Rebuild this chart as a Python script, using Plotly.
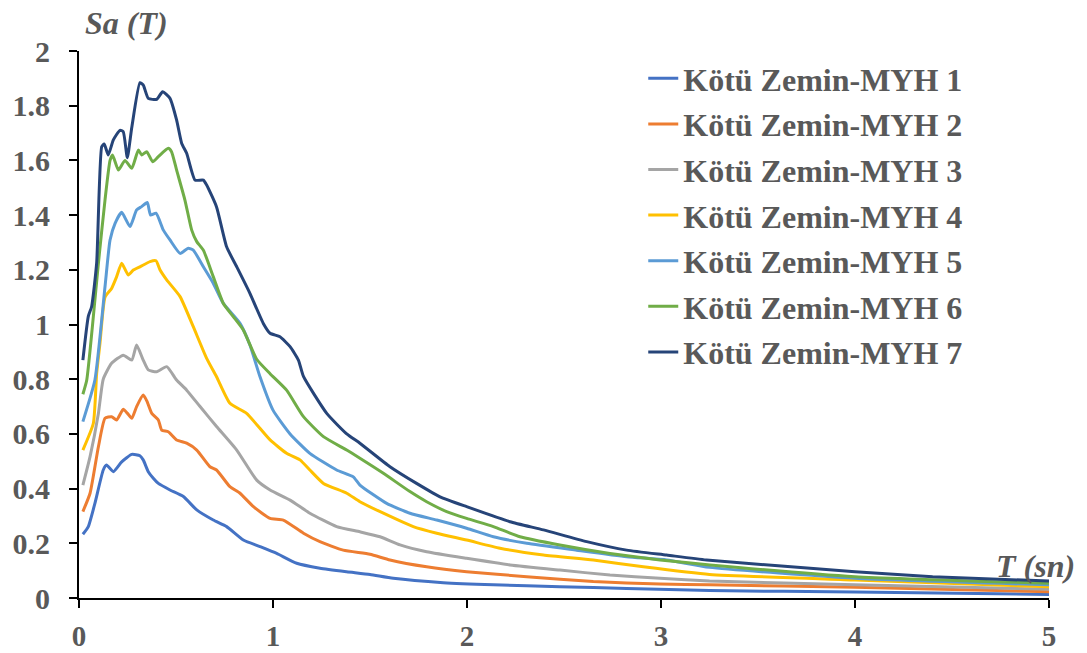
import plotly.graph_objects as go

# ---- data ----
names = ["Kötü Zemin-MYH 1", "Kötü Zemin-MYH 2", "Kötü Zemin-MYH 3", "Kötü Zemin-MYH 4",
         "Kötü Zemin-MYH 5", "Kötü Zemin-MYH 6", "Kötü Zemin-MYH 7"]
colors = ["#4472C4", "#ED7D31", "#A5A5A5", "#FFC000", "#5B9BD5", "#70AD47", "#264478"]

t1 = [0.02, 0.048, 0.082, 0.125, 0.142, 0.177, 0.22, 0.272, 0.314, 0.331, 0.357, 0.383, 0.409, 0.469,
      0.538, 0.607, 0.692, 0.761, 0.847, 0.933, 1.019, 1.122, 1.242, 1.38, 1.5, 1.62, 1.878, 2.136,
      2.479, 2.823, 3.25, 4.0, 5.0]
sa1 = [0.233, 0.261, 0.346, 0.468, 0.486, 0.462, 0.498, 0.525, 0.52, 0.505, 0.462, 0.438, 0.419, 0.395,
       0.371, 0.322, 0.285, 0.261, 0.212, 0.188, 0.163, 0.127, 0.109, 0.096, 0.086, 0.072, 0.056, 0.048,
       0.041, 0.035, 0.027, 0.022, 0.013]

t2 = [0.02, 0.057, 0.10, 0.134, 0.168, 0.194, 0.228, 0.25, 0.272, 0.297, 0.331, 0.35, 0.375, 0.409,
      0.426, 0.46, 0.503, 0.555, 0.607, 0.675, 0.709, 0.778, 0.83, 0.899, 0.985, 1.053, 1.157, 1.242,
      1.362, 1.5, 1.603, 1.792, 1.998, 2.308, 2.651, 2.995, 3.25, 4.0, 5.0]
sa2 = [0.316, 0.383, 0.553, 0.657, 0.663, 0.651, 0.69, 0.675, 0.657, 0.70, 0.742, 0.72, 0.675, 0.651,
       0.614, 0.608, 0.578, 0.566, 0.541, 0.48, 0.468, 0.407, 0.383, 0.334, 0.291, 0.285, 0.237, 0.206,
       0.175, 0.16, 0.139, 0.114, 0.096, 0.078, 0.06, 0.051, 0.048, 0.039, 0.023]

t3 = [0.02, 0.057, 0.10, 0.125, 0.168, 0.228, 0.272, 0.297, 0.331, 0.357, 0.40, 0.452, 0.503, 0.555,
      0.624, 0.709, 0.813, 0.916, 0.985, 1.088, 1.19, 1.328, 1.448, 1.552, 1.655, 1.792, 1.998, 2.222,
      2.479, 2.737, 2.995, 3.25, 4.0, 5.0]
sa3 = [0.413, 0.517, 0.675, 0.80, 0.858, 0.888, 0.87, 0.925, 0.87, 0.834, 0.827, 0.846, 0.797, 0.76,
       0.70, 0.627, 0.541, 0.431, 0.395, 0.358, 0.31, 0.261, 0.242, 0.224, 0.194, 0.169, 0.145, 0.121,
       0.102, 0.084, 0.072, 0.062, 0.048, 0.032]

t4 = [0.02, 0.074, 0.091, 0.108, 0.134, 0.168, 0.194, 0.22, 0.254, 0.28, 0.314, 0.366, 0.397, 0.418,
      0.452, 0.521, 0.589, 0.658, 0.709, 0.778, 0.864, 0.985, 1.07, 1.139, 1.19, 1.26, 1.38, 1.448,
      1.569, 1.723, 1.844, 1.998, 2.17, 2.394, 2.651, 2.909, 3.25, 4.0, 5.0]
sa4 = [0.541, 0.639, 0.82, 0.93, 1.10, 1.132, 1.175, 1.224, 1.181, 1.199, 1.211, 1.23, 1.233, 1.199,
       1.163, 1.102, 0.992, 0.876, 0.809, 0.712, 0.675, 0.578, 0.529, 0.505, 0.468, 0.419, 0.383, 0.352,
       0.31, 0.261, 0.237, 0.212, 0.182, 0.157, 0.139, 0.114, 0.086, 0.066, 0.041]

t5 = [0.02, 0.082, 0.134, 0.16, 0.186, 0.22, 0.263, 0.297, 0.323, 0.352, 0.369, 0.397, 0.435, 0.469,
      0.521, 0.563, 0.589, 0.641, 0.692, 0.744, 0.83, 0.881, 0.933, 1.0, 1.088, 1.19, 1.328, 1.414,
      1.448, 1.586, 1.706, 1.844, 1.998, 2.136, 2.308, 2.565, 2.823, 3.03, 3.25, 4.0, 5.0]
sa5 = [0.645, 0.797, 1.138, 1.309, 1.37, 1.41, 1.358, 1.419, 1.431, 1.446, 1.40, 1.407, 1.345, 1.309,
       1.26, 1.279, 1.272, 1.211, 1.151, 1.077, 1.004, 0.925, 0.809, 0.687, 0.60, 0.529, 0.468, 0.443,
       0.413, 0.346, 0.31, 0.285, 0.255, 0.224, 0.20, 0.175, 0.151, 0.139, 0.112, 0.072, 0.048]

t6 = [0.02, 0.04, 0.10, 0.134, 0.16, 0.173, 0.203, 0.237, 0.272, 0.306, 0.323, 0.349, 0.38, 0.409,
      0.46, 0.477, 0.503, 0.546, 0.581, 0.607, 0.641, 0.692, 0.744, 0.795, 0.847, 0.916, 0.985, 1.07,
      1.157, 1.26, 1.38, 1.448, 1.569, 1.706, 1.792, 1.895, 1.998, 2.136, 2.273, 2.479, 2.737, 2.995,
      3.253, 4.0, 5.0]
sa6 = [0.745, 0.797, 1.224, 1.455, 1.60, 1.62, 1.565, 1.60, 1.571, 1.638, 1.62, 1.632, 1.595, 1.614,
       1.644, 1.632, 1.565, 1.455, 1.345, 1.303, 1.272, 1.175, 1.077, 1.029, 0.98, 0.873, 0.82, 0.76,
       0.663, 0.59, 0.541, 0.511, 0.456, 0.389, 0.352, 0.316, 0.291, 0.261, 0.224, 0.194, 0.163, 0.139,
       0.121, 0.078, 0.054]

t7 = [0.02, 0.048, 0.065, 0.091, 0.117, 0.13, 0.151, 0.177, 0.211, 0.228, 0.249, 0.272, 0.314, 0.331,
      0.357, 0.40, 0.431, 0.469, 0.503, 0.529, 0.555, 0.598, 0.641, 0.658, 0.709, 0.761, 0.813, 0.881,
      0.950, 0.985, 1.036, 1.088, 1.131, 1.157, 1.277, 1.38, 1.448, 1.603, 1.74, 1.861, 1.998, 2.222,
      2.394, 2.617, 2.823, 3.029, 3.235, 4.0, 4.4, 5.0]
sa7 = [0.87, 1.03, 1.065, 1.224, 1.65, 1.66, 1.62, 1.675, 1.71, 1.705, 1.61, 1.72, 1.884, 1.876,
       1.827, 1.823, 1.851, 1.827, 1.748, 1.663, 1.626, 1.528, 1.528, 1.51, 1.43, 1.284, 1.211, 1.114,
       1.004, 0.968, 0.955, 0.919, 0.87, 0.81, 0.675, 0.60, 0.566, 0.48, 0.419, 0.37, 0.334, 0.279,
       0.249, 0.206, 0.175, 0.157, 0.139, 0.096, 0.078, 0.062]

periods = [t1, t2, t3, t4, t5, t6, t7]
spectra = [sa1, sa2, sa3, sa4, sa5, sa6, sa7]

x_ticks = [0, 1, 2, 3, 4, 5]
y_ticks = [0, 0.2, 0.4, 0.6, 0.8, 1, 1.2, 1.4, 1.6, 1.8, 2]

FONT = "Liberation Serif, Times New Roman, serif"
GREY = "#595959"

fig = go.Figure()
for i, (t, s) in enumerate(zip(periods, spectra)):
    fig.add_trace(go.Scatter(
        x=t, y=s, mode="lines", name=names[i], legendgroup=names[i],
        line=dict(color=colors[i], width=3, shape="spline", smoothing=0.5),
    ))

axis_common = dict(
    showline=True, linecolor="black", linewidth=2,
    ticks="outside", ticklen=8, tickwidth=2, tickcolor="black",
    showgrid=False, zeroline=False, automargin=False,
)
fig.update_xaxes(range=[0, 5], tickvals=x_ticks, ticklabelstandoff=3,
                 tickfont=dict(family=FONT, size=29, color=GREY, weight="bold"), **axis_common)
fig.update_yaxes(range=[0, 2], tickvals=y_ticks, ticklabelstandoff=13,
                 tickfont=dict(family=FONT, size=30, color=GREY, weight="bold"), **axis_common)

fig.update_layout(
    width=1087, height=653,
    margin=dict(l=79, r=38, t=51, b=55, autoexpand=False),
    plot_bgcolor="white", paper_bgcolor="white",
    showlegend=True,
    legend=dict(
        x=0.5817, y=1.0, xanchor="left", yanchor="top",
        font=dict(family=FONT, size=32, color=GREY, weight="bold"),
        tracegroupgap=1, bgcolor="rgba(0,0,0,0)",
    ),
    annotations=[
        dict(text="<b><i>Sa (T)</i></b>", xref="paper", yref="paper", x=0.004, y=1.0,
             xanchor="left", yanchor="bottom", yshift=8, showarrow=False,
             font=dict(family=FONT, size=32, color=GREY)),
        dict(text="<b><i>T (sn)</i></b>", xref="paper", yref="paper", x=1.0, y=0.0,
             xanchor="center", yanchor="bottom", xshift=-14, yshift=12, showarrow=False,
             font=dict(family=FONT, size=32, color=GREY)),
    ],
)

fig.write_html("out.html")
